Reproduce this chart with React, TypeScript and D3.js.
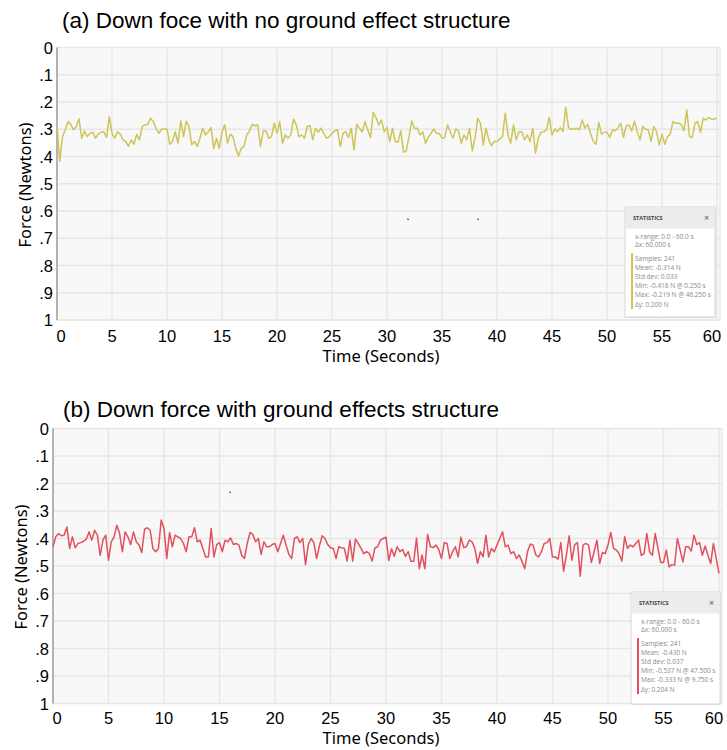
import React from "react";
import * as d3 from "d3";

// force magnitudes (N), one sample every 0.25 s, 0 at the top of the axis
const sampleStep = 0.25;
const xTicks = [0, 5, 10, 15, 20, 25, 30, 35, 40, 45, 50, 55, 60];
const yTicks = [0, 0.1, 0.2, 0.3, 0.4, 0.5, 0.6, 0.7, 0.8, 0.9, 1];
const yTickLabels = ["0", ".1", ".2", ".3", ".4", ".5", ".6", ".7", ".8", ".9", "1"];

const forceNoGround = [
  0.284, 0.418, 0.327, 0.302, 0.272, 0.282, 0.302, 0.29, 0.262, 0.333,
  0.306, 0.327, 0.315, 0.311, 0.333, 0.318, 0.311, 0.309, 0.33, 0.254,
  0.315, 0.333, 0.309, 0.318, 0.339, 0.345, 0.363, 0.339, 0.355, 0.318,
  0.339, 0.29, 0.284, 0.282, 0.26, 0.272, 0.296, 0.315, 0.3, 0.299,
  0.299, 0.355, 0.345, 0.309, 0.351, 0.27, 0.327, 0.27, 0.29, 0.357,
  0.345, 0.363, 0.333, 0.296, 0.321, 0.309, 0.294, 0.37, 0.333, 0.37,
  0.309, 0.284,
  0.351, 0.318, 0.327, 0.37, 0.398, 0.37, 0.363, 0.321, 0.306, 0.282,
  0.287, 0.284, 0.363, 0.306, 0.306, 0.333, 0.327, 0.278, 0.315, 0.272,
  0.351, 0.321, 0.333, 0.321, 0.263, 0.284, 0.327, 0.321, 0.333, 0.29,
  0.287, 0.339, 0.296, 0.311, 0.296, 0.315, 0.333, 0.327, 0.315, 0.306,
  0.302, 0.363, 0.315, 0.309, 0.33, 0.296, 0.376, 0.282, 0.296, 0.309,
  0.272, 0.302, 0.33, 0.238, 0.257, 0.284, 0.266, 0.309, 0.294, 0.345,
  0.296, 0.345, 0.348, 0.306, 0.384, 0.379, 0.327, 0.27, 0.296, 0.296,
  0.321, 0.309, 0.351, 0.33, 0.315, 0.299, 0.315, 0.315, 0.333, 0.33,
  0.284, 0.309, 0.333, 0.299, 0.306, 0.351, 0.321, 0.339, 0.296, 0.379,
  0.333, 0.26, 0.278, 0.357, 0.296, 0.339, 0.36, 0.345, 0.345, 0.335,
  0.327, 0.241, 0.321, 0.351, 0.284, 0.339, 0.309, 0.309, 0.339, 0.321,
  0.345, 0.296, 0.388, 0.333, 0.311, 0.309, 0.302, 0.257, 0.321, 0.299,
  0.309, 0.294, 0.309, 0.219, 0.294, 0.3, 0.299, 0.296, 0.302, 0.266,
  0.296, 0.282, 0.315, 0.345, 0.355, 0.274, 0.318, 0.311, 0.311, 0.33,
  0.302, 0.306, 0.294, 0.278, 0.33, 0.287, 0.284, 0.306, 0.27, 0.309,
  0.339, 0.29, 0.3, 0.302, 0.345, 0.29, 0.309, 0.357, 0.318, 0.355,
  0.327, 0.318, 0.272, 0.278, 0.278, 0.282, 0.306, 0.229, 0.327, 0.33,
  0.278, 0.272, 0.311, 0.26, 0.266, 0.257, 0.263, 0.262, 0.26,
];

const forceGround = [
  0.43, 0.394, 0.382, 0.39, 0.388, 0.358, 0.436, 0.394, 0.434, 0.418,
  0.415, 0.41, 0.402, 0.376, 0.406, 0.37, 0.388, 0.461, 0.406, 0.388,
  0.479, 0.412, 0.394, 0.352, 0.382, 0.448, 0.376, 0.394, 0.422, 0.376,
  0.412, 0.424, 0.451, 0.366, 0.361, 0.37, 0.436, 0.448, 0.436, 0.333,
  0.364, 0.473, 0.378, 0.43, 0.388, 0.394, 0.4, 0.418, 0.448, 0.394,
  0.394, 0.361, 0.412, 0.406, 0.436, 0.467, 0.467, 0.364, 0.467, 0.422,
  0.415,
  0.448, 0.406, 0.412, 0.398, 0.422, 0.418, 0.424, 0.461, 0.473, 0.418,
  0.378, 0.385, 0.412, 0.4, 0.458, 0.412, 0.43, 0.43, 0.422, 0.418,
  0.448, 0.418, 0.388, 0.424, 0.458, 0.473, 0.4, 0.394, 0.415, 0.4,
  0.495, 0.422, 0.4, 0.415, 0.473, 0.427, 0.39, 0.4, 0.422, 0.434,
  0.436, 0.473, 0.43, 0.434, 0.436, 0.482, 0.406, 0.482, 0.402, 0.418,
  0.436, 0.455, 0.448, 0.455, 0.482, 0.434, 0.43, 0.406, 0.4,
  0.395, 0.48, 0.437, 0.465, 0.43, 0.448, 0.44, 0.465, 0.448, 0.483,
  0.483, 0.398, 0.51, 0.46, 0.51, 0.385, 0.43, 0.433, 0.424, 0.44,
  0.473, 0.415, 0.418, 0.473, 0.448, 0.43, 0.467, 0.395, 0.433, 0.43,
  0.406, 0.412, 0.436, 0.49, 0.448, 0.467, 0.388, 0.467, 0.436, 0.448,
  0.424, 0.4, 0.376, 0.43, 0.424, 0.455, 0.448, 0.473, 0.46, 0.483,
  0.51, 0.448, 0.42, 0.424, 0.46, 0.467, 0.448, 0.418, 0.415, 0.4,
  0.467, 0.467, 0.475, 0.415, 0.519, 0.461, 0.39, 0.479, 0.422, 0.415,
  0.537, 0.424, 0.418, 0.424, 0.487, 0.448, 0.406, 0.491, 0.451, 0.455,
  0.424, 0.378, 0.436, 0.442, 0.455, 0.482, 0.394, 0.436, 0.424, 0.43,
  0.418, 0.406, 0.461, 0.455, 0.382, 0.448, 0.461, 0.382, 0.436, 0.487,
  0.487, 0.442, 0.503, 0.495, 0.497, 0.4, 0.442, 0.485, 0.43, 0.43,
  0.446, 0.388, 0.422, 0.415, 0.461, 0.427, 0.461, 0.491, 0.418, 0.473,
  0.527,
];

const rangeLines = ["x-range: 0.0 - 60.0 s", "Δx: 60.000 s"];
const statsNoGround = [
  "Samples: 241",
  "Mean: -0.314 N",
  "Std dev: 0.033",
  "Min: -0.418 N @ 0.250 s",
  "Max: -0.219 N @ 46.250 s",
  "Δy: 0.200 N",
];
const statsGround = [
  "Samples: 241",
  "Mean: -0.430 N",
  "Std dev: 0.037",
  "Min: -0.537 N @ 47.500 s",
  "Max: -0.333 N @ 9.750 s",
  "Δy: 0.204 N",
];

const tickFont = "'Liberation Sans', Arial, sans-serif";
const labelFont = "'Noto Sans', 'Open Sans', sans-serif";
const statFont = "'Open Sans', 'Noto Sans', sans-serif";

function StatsBox({ x0, y0, w, h, color, lines }) {
  return (
    <g>
      <rect x={x0 + 1} y={y0 + 1} width={w} height={h} fill="#e4e4e4" />
      <rect x={x0} y={y0} width={w} height={h} fill="#fff" stroke="#d6d6d6" />
      <rect x={x0 + 0.5} y={y0 + 0.5} width={w - 1} height={21} fill="#ececec" />
      <text x={x0 + 8} y={y0 + 13} fontSize={5.5} fontWeight="bold" fill="#444" fontFamily={statFont}>
        STATISTICS
      </text>
      <text x={x0 + w - 11} y={y0 + 13.5} fontSize={9} fill="#555" fontFamily={statFont}>
        ×
      </text>
      {rangeLines.map((t, i) => (
        <text key={t} x={x0 + 10} y={y0 + 32 + i * 8} fontSize={6.5} fill="#8a8a8a" fontFamily={statFont}>
          {t}
        </text>
      ))}
      <line x1={x0 + 7} x2={x0 + 7} y1={y0 + 46} y2={y0 + 102} stroke={color} strokeWidth={2} />
      {lines.map((t, i) => (
        <text key={t} x={x0 + 10} y={y0 + 53.5 + i * 9.2} fontSize={6.5} fill="#8a8a8a" fontFamily={statFont}>
          {t}
        </text>
      ))}
    </g>
  );
}

function Panel({ p, values, color, stats }) {
  const x = d3.scaleLinear().domain([0, 60]).range([p.left, p.right]);
  const y = d3.scaleLinear().domain([0, 1]).range([p.top, p.bottom]);
  const line = d3
    .line<number>()
    .x((d, i) => x(i * sampleStep))
    .y((d) => y(d));
  const lastTick = xTicks[xTicks.length - 1];
  return (
    <g>
      <text x={p.titleX} y={p.titleY} fontSize={22.5} fontFamily={tickFont} fill="#000">
        {p.title}
      </text>
      <rect x={p.left} y={p.top} width={p.right - p.left + 3} height={p.bottom - p.top} fill="#f8f8f8" stroke="#e2e2e2" />
      {yTicks.map((t) => (
        <line key={"gy" + t} x1={p.left} x2={p.right + 3} y1={y(t)} y2={y(t)} stroke="#e6e6e6" strokeWidth={1.5} />
      ))}
      {xTicks.map((t) => (
        <line key={"gx" + t} x1={x(t)} x2={x(t)} y1={p.top} y2={p.bottom} stroke="#e8e8e8" strokeWidth={1.5} />
      ))}
      <line x1={p.left} x2={p.left} y1={p.top} y2={p.bottom} stroke="#a0a0a0" strokeWidth={1.5} />
      <path d={line(values)} fill="none" stroke={color} strokeWidth={1.5} strokeLinejoin="round" />
      {p.marks.map((m, i) => (
        <line key={"m" + i} x1={m[0]} x2={m[0] + 2} y1={m[1]} y2={m[1] + 0.5} stroke="#2b3bd0" strokeWidth={1} />
      ))}
      {yTicks.map((t, i) => (
        <text
          key={"ly" + t}
          x={p.left - 4}
          y={y(t)}
          textAnchor="end"
          dominantBaseline="central"
          fontSize={16.5}
          fontFamily={tickFont}
        >
          {yTickLabels[i]}
        </text>
      ))}
      {xTicks.map((t) => (
        <text
          key={"lx" + t}
          x={x(t) + (t === 0 ? 4 : t === lastTick ? -5 : 0)}
          y={p.xLabelY}
          textAnchor="middle"
          dominantBaseline="central"
          fontSize={16.5}
          fontFamily={tickFont}
        >
          {t}
        </text>
      ))}
      <text x={p.timeX} y={p.timeY} textAnchor="middle" fontSize={16.5} fontFamily={labelFont}>
        Time (Seconds)
      </text>
      <text
        transform={`translate(${p.forceX},${p.forceY}) rotate(-90)`}
        textAnchor="middle"
        dominantBaseline="central"
        fontSize={16.5}
        fontFamily={labelFont}
      >
        Force (Newtons)
      </text>
      <StatsBox x0={p.statX} y0={p.statY} w={p.statW} h={p.statH} color={color} lines={stats} />
    </g>
  );
}

const panelA = {
  title: "(a) Down foce with no ground effect structure",
  titleX: 62,
  titleY: 28,
  left: 57,
  right: 717,
  top: 47.5,
  bottom: 320,
  xLabelY: 336,
  timeX: 381,
  timeY: 362,
  forceX: 24,
  forceY: 185,
  statX: 625,
  statY: 207,
  statW: 90,
  statH: 110,
  marks: [
    [407, 219],
    [477, 219],
  ],
};

const panelB = {
  title: "(b) Down force with ground effects structure",
  titleX: 63,
  titleY: 417,
  left: 53,
  right: 719,
  top: 428.5,
  bottom: 703.5,
  xLabelY: 718,
  timeX: 381,
  timeY: 744,
  forceX: 20,
  forceY: 567,
  statX: 631,
  statY: 592,
  statW: 89,
  statH: 112,
  marks: [[229, 492]],
};

export default function App() {
  return (
    <div style={{ position: "absolute", left: 0, top: 0 }}>
      <svg width={727} height={750} style={{ display: "block", background: "#fff" }}>
        <Panel p={panelA} values={forceNoGround} color="#cdc55a" stats={statsNoGround} />
        <Panel p={panelB} values={forceGround} color="#e2505d" stats={statsGround} />
      </svg>
    </div>
  );
}
